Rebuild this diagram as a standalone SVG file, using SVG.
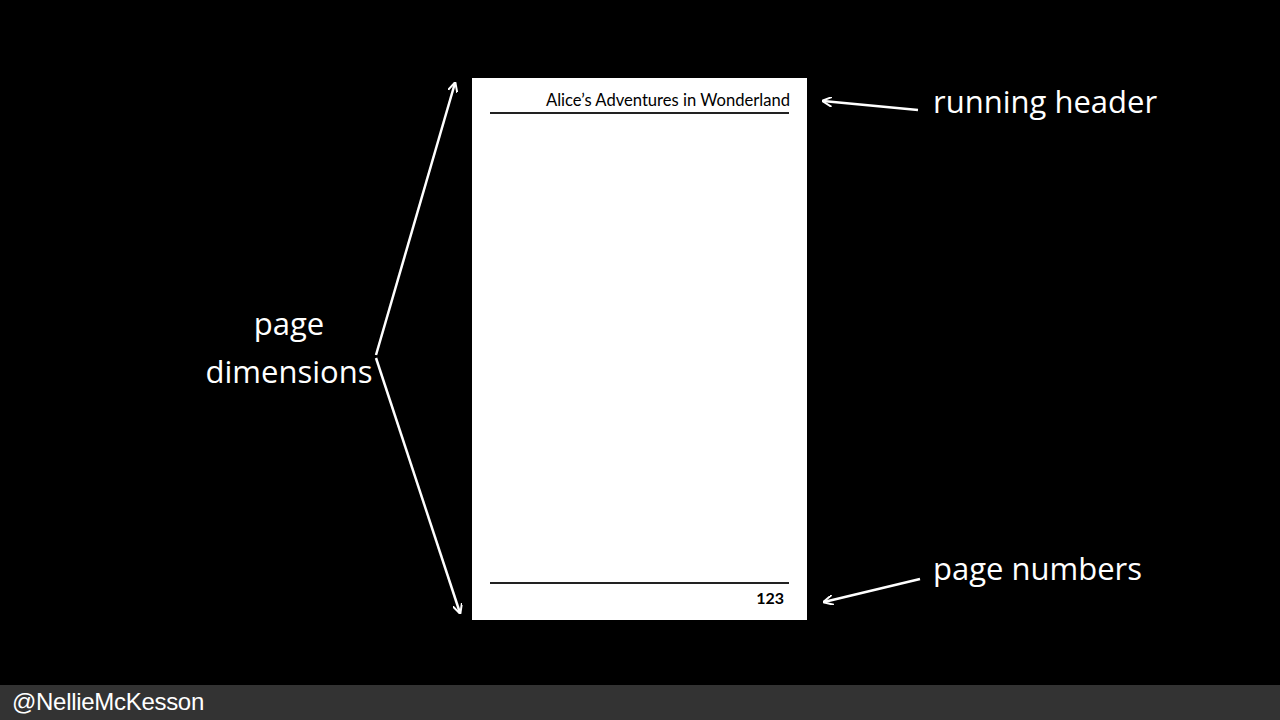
<svg xmlns="http://www.w3.org/2000/svg" width="1280" height="720" viewBox="0 0 1280 720">
<defs>
<marker id="ah" viewBox="0 0 10 10" refX="9" refY="5" markerWidth="10" markerHeight="10" markerUnits="userSpaceOnUse" orient="auto">
<path d="M0,0 L10,5 L0,10" fill="none" stroke="#fff" stroke-width="2"/>
</marker>
<style>
.hand{font-family:"Open Sans","DejaVu Sans",sans-serif;font-size:31px;fill:#fff}
.arr{stroke:#fff;stroke-width:2.5;fill:none;marker-end:url(#ah)}
</style>
</defs>
<rect width="1280" height="720" fill="#000"/>
<g id="page">
<rect x="472" y="78" width="335" height="542" fill="#fff"/>
<line x1="490" y1="113" x2="789" y2="113" stroke="#222" stroke-width="2"/>
<line x1="490" y1="583" x2="789" y2="583" stroke="#222" stroke-width="2"/>
<text x="790" y="106" text-anchor="end" font-family="Lato,sans-serif" font-size="16.6" fill="#000">Alice’s Adventures in Wonderland</text>
<text x="784" y="604" text-anchor="end" font-family="Lato,sans-serif" font-size="16" font-weight="bold" fill="#000">123</text>
</g>
<g id="label-dimensions">
<text class="hand" x="289" y="335" text-anchor="middle">page</text>
<text class="hand" x="289" y="383" text-anchor="middle">dimensions</text>
</g>
<g id="label-header">
<text class="hand" x="933" y="113">running header</text>
</g>
<g id="label-numbers">
<text class="hand" x="933" y="580">page numbers</text>
</g>
<g id="connectors">
<path class="arr" d="M376,355 L455,83"/>
<path class="arr" d="M376,358 L460,613"/>
<path class="arr" d="M918,110 L823,101"/>
<path class="arr" d="M920,579 L824,602"/>
</g>
<g id="footer">
<rect x="0" y="685" width="1280" height="35" fill="#333"/>
<text x="12" y="710" font-family="'Liberation Sans',Arial,sans-serif" font-size="24" fill="#fff" letter-spacing="-0.3">@NellieMcKesson</text>
</g>
</svg>
